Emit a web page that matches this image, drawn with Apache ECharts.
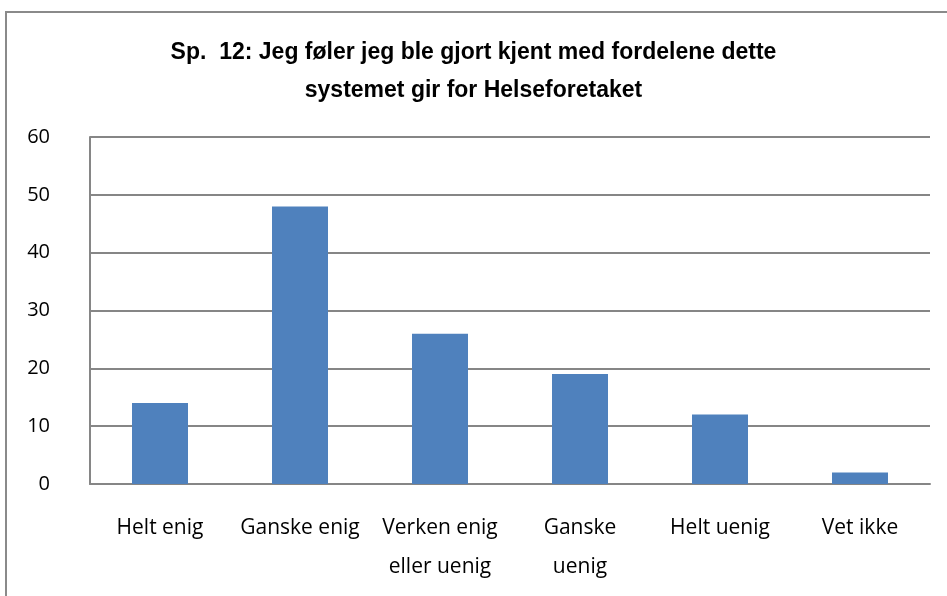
<!DOCTYPE html>
<html lang="no">
<head>
	<meta charset="UTF-8">
	<title>Sp. 12</title>
	<script src="https://cdn.jsdelivr.net/npm/echarts@6/dist/echarts.min.js"></script>
	<style>
		html, body { margin: 0; padding: 0; background: #fff; }
		#frame {
			position: absolute; left: 5px; top: 11px;
			width: 960px; height: 620px;
			border: 2px solid #8a8a8a;
		}
		#chart { position: absolute; left: 0; top: 0; width: 947px; height: 596px; }
	</style>
</head>
<body>
	<div id="frame"></div>
	<div id="chart"></div>
<script>
	var titleText = 'Sp.  12: Jeg føler jeg ble gjort kjent med fordelene dette\nsystemet gir for Helseforetaket';
	var categories = ['Helt enig', 'Ganske enig', 'Verken enig\neller uenig', 'Ganske\nuenig', 'Helt uenig', 'Vet ikke'];
	var values = [14, 48, 26, 19, 12, 2];
	var yTicks = [0, 60, 10]; // min, max, interval

	var myChart = echarts.init(document.getElementById('chart'));
	var option = {
		animation: false,
		title: {
			text: titleText,
			left: 'center',
			top: 29,
			textStyle: {
				fontFamily: 'Liberation Sans',
				fontWeight: 'bold',
				fontSize: 23,
				lineHeight: 38,
				color: '#000'
			}
		},
		grid: { left: 90, right: 17, top: 137, bottom: 112, containLabel: false },
		xAxis: {
			type: 'category',
			data: categories,
			axisLine: { lineStyle: { color: '#868686', width: 2 } },
			axisTick: { show: false },
			axisLabel: {
				color: '#000', fontSize: 21, margin: 25, lineHeight: 39,
				fontFamily: 'Open Sans', interval: 0
			}
		},
		yAxis: {
			type: 'value',
			min: yTicks[0], max: yTicks[1], interval: yTicks[2],
			axisLine: { show: true, lineStyle: { color: '#868686', width: 2 } },
			axisTick: { show: false },
			splitLine: { lineStyle: { color: '#868686', width: 2 } },
			axisLabel: { color: '#000', fontSize: 20, margin: 40, fontFamily: 'Open Sans' }
		},
		series: [{
			type: 'bar',
			data: values,
			barWidth: '40%',
			itemStyle: { color: '#4F81BD' }
		}]
	};
	myChart.setOption(option);
</script>
</body>
</html>
